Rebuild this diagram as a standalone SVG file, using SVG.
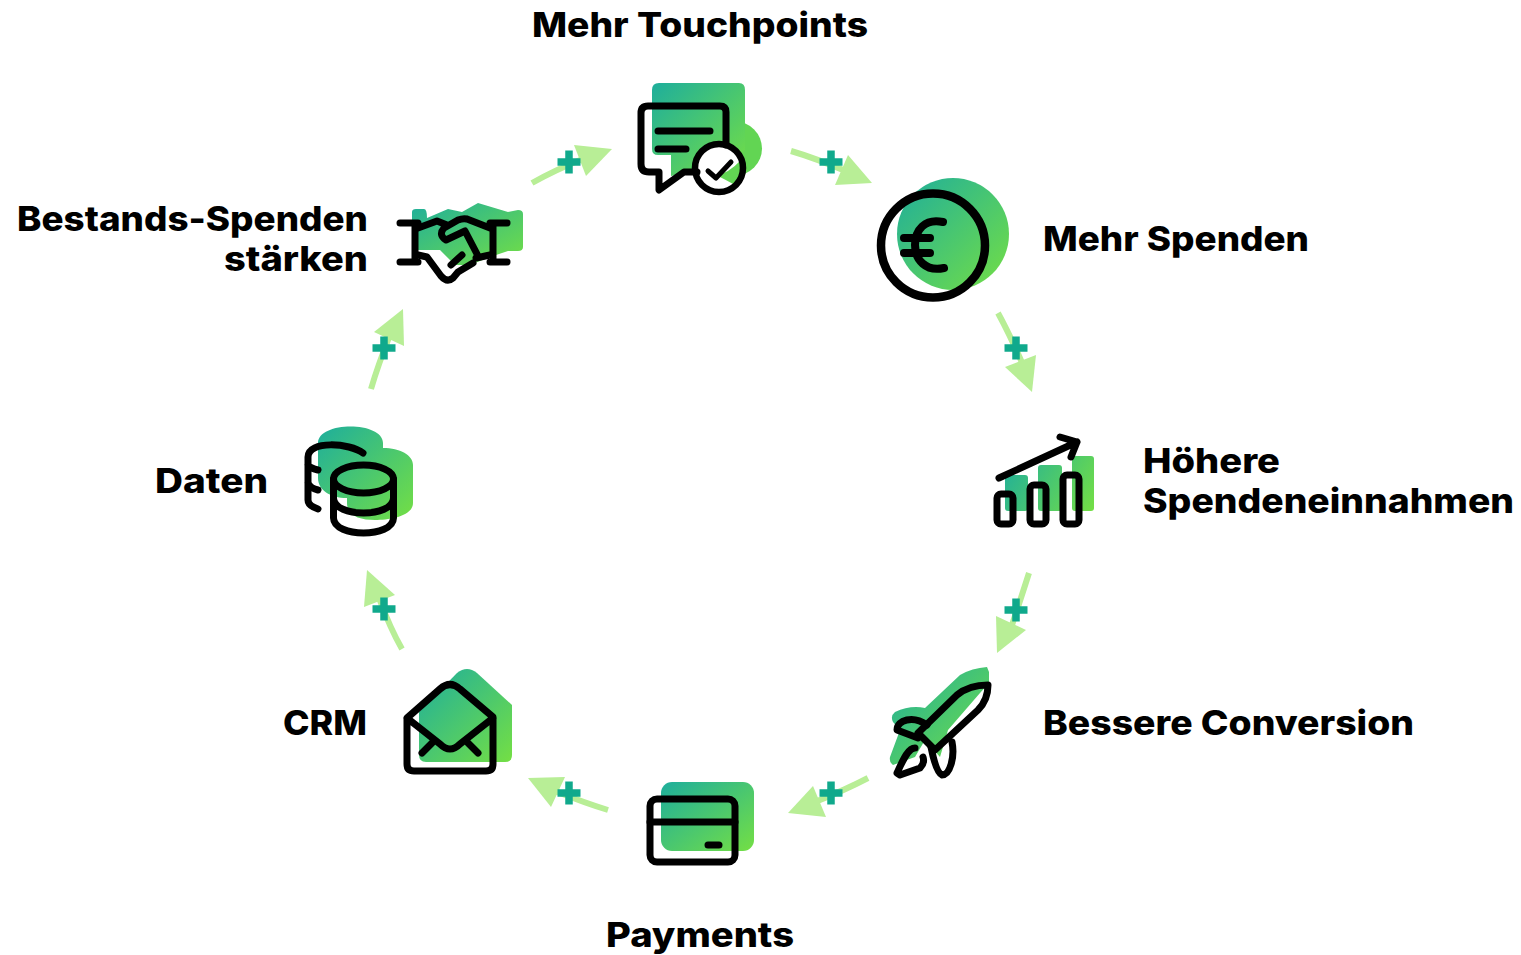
<svg xmlns="http://www.w3.org/2000/svg" width="1521" height="955" viewBox="0 0 1521 955">
<defs>
<linearGradient id="g" x1="0" y1="0" x2="1" y2="1"><stop offset="0" stop-color="#1eae9c"/><stop offset="1" stop-color="#74df44"/></linearGradient>
<linearGradient id="gb" gradientUnits="userSpaceOnUse" x1="1005" y1="456" x2="1094" y2="511"><stop offset="0" stop-color="#1eae9c"/><stop offset="1" stop-color="#74df44"/></linearGradient>
</defs>
<style>
text{font-family:"Inter","Liberation Sans",sans-serif;font-weight:800;font-size:34px;fill:#000}
.gr{fill:url(#g)}
.gb{fill:url(#gb)}
.k{fill:none;stroke:#000;stroke-width:7;stroke-linecap:round;stroke-linejoin:round}
.ln{fill:none;stroke:#b8ee96;stroke-width:6}
.hd{fill:#b8ee96}
.pl{fill:none;stroke:#10a98c;stroke-width:7.500}
</style>
<rect width="1521" height="955" fill="#fff"/>
<g id="connectors">
<path class="ln" d="M791 151Q815 158 848 172"/><polygon class="hd" points="872,183 848,155 835,185"/><path class="pl" d="M819.500 162H842.500M831 150.500V173.500"/>
<path class="ln" d="M998 313Q1010 335 1023 365"/><polygon class="hd" points="1036,355 1005,367 1032,392"/><path class="pl" d="M1004.500 348H1027.500M1016 336.500V359.500"/>
<path class="ln" d="M1029 573Q1022 595 1012 625"/><polygon class="hd" points="996,616 1026,630 997,653"/><path class="pl" d="M1004.500 610H1027.500M1016 598.500V621.500"/>
<path class="ln" d="M868 778Q845 790 815 802"/><polygon class="hd" points="813,786 826,817 788,813"/><path class="pl" d="M819.500 793H842.500M831 781.500V804.500"/>
<path class="ln" d="M608 810Q585 803 555 791"/><polygon class="hd" points="528,778 565,777 551,807"/><path class="pl" d="M557.500 793H580.500M569 781.500V804.500"/>
<path class="ln" d="M402 649Q390 628 379 598"/><polygon class="hd" points="367,570 395,595 364,607"/><path class="pl" d="M372.500 609H395.500M384 597.500V620.500"/>
<path class="ln" d="M371 389Q378 365 390 335"/><polygon class="hd" points="403,309 404,346 374,332"/><path class="pl" d="M372.500 348H395.500M384 336.500V359.500"/>
<path class="ln" d="M532 183Q555 170 585 158"/><polygon class="hd" points="612,149 574,145 586,176"/><path class="pl" d="M557.500 162H580.500M569 150.500V173.500"/>
</g>
<g id="node-touchpoints">
<path fill="#62d553" d="M735 121.500A27 27 0 0 1 735 175.500H715V125Z"/>
<path class="gr" d="M659 83H739Q745 83 745 90V150L725 170H700L671 176V155H658Q652 155 652 149V90Q652 83 659 83Z"/>
<circle cx="719" cy="168" r="24" fill="#fff"/>
<path fill="#62d553" d="M716 175Q728 174 741 160Q744 172 735 185Q726 180 716 175Z"/>
<path class="k" d="M648 106H720Q726 106 726 112V145M697 172H684L659 190V172H649Q641 172 641 164V113Q641 106 648 106"/>
<path class="k" d="M658 131H710M658 149H686"/>
<circle cx="719" cy="168" r="24" class="k" style="stroke-width:6.500"/>
<path class="k" style="stroke-width:5" d="M708 171L716 178L731 162"/>
</g>
<g id="node-mehr-spenden">
<circle class="gr" cx="953" cy="234" r="56"/>
<circle class="k" cx="933" cy="245.500" r="52" style="stroke-width:8.500"/>
<path class="k" style="stroke-width:8" d="M943 222C925 218 915 230 915 245C915 260 926 272 944 268M904 238H930M904 253H930"/>
</g>
<g id="node-einnahmen">
<rect class="gb" x="1005" y="475" width="23" height="36" rx="3"/>
<rect class="gb" x="1038" y="465" width="24" height="46" rx="3"/>
<rect class="gb" x="1072" y="456" width="22" height="55" rx="3"/>
<rect class="k" x="997" y="494" width="16" height="30" rx="4"/>
<rect class="k" x="1030" y="485" width="16" height="39" rx="4"/>
<rect class="k" x="1063" y="475" width="16" height="49" rx="4"/>
<path class="k" d="M999 478L1077 442M1060 437L1077 442L1071 457"/>
</g>
<g id="node-conversion">
<path class="gr" d="M987 667L989 672V683L980 693L948 730L940 757L925 740L915 757L893 765Q889 762 890 757L900 730L893 722Q890 716 895 712Q910 705 925 708L960 675Q972 668 987 667Z"/>
<path class="k" d="M988 685C972 685 963 690 957 695L918 733L935 750L978 710C985 703 988 695 988 685Z"/>
<path class="k" d="M927 725C913 715 897 720 897 730L918 738"/>
<path class="k" d="M952 742C955 757 950 775 942 775C937 773 933 757 931 747"/>
<path class="k" d="M915 748C908 748 903 760 897 773L900 775L920 768Q925 763 923 757"/>
</g>
<g id="node-payments">
<rect class="gr" x="661" y="782" width="93" height="69" rx="11"/>
<rect class="k" x="650" y="799" width="85" height="63" rx="7"/>
<path class="k" d="M650 822H735M708 845H719"/>
</g>
<g id="node-crm">
<path class="gr" d="M457 673Q467 665 477 673L512 705V755Q512 762 505 762H426Q419 762 419 755V712Z"/>
<path class="k" d="M407 718L440 689Q450 680 460 689L493 717V764Q493 771 486 771H414Q407 771 407 764ZM407 718L440 744Q450 754 460 744L493 718M422 753L432 743M478 753L468 743"/>
</g>
<g id="node-daten">
<path class="gr" d="M318 443C318 421 383 421 383 443V448C400 448 413 455 413 465V503C413 516 390 520 375 520C360 520 347 516 347 503V498C330 498 318 490 318 478Z"/>
<path class="k" d="M363 453C350 443 308 440 308 457V500C308 504 312 507 318 509M308 465Q310 468 318 470M308 483Q310 488 318 490"/>
<ellipse class="k" cx="363.500" cy="479" rx="30" ry="14"/>
<path class="k" d="M333.500 479V518C334 538 393 538 393.500 518V479M333.500 498C334 518 393 518 393.500 498"/>
</g>
<g id="node-bestand">
<path class="gr" d="M412 212Q412 209 416 209H424Q427 209 427 218L448 209L462 212L478 203L508 212L518 210Q523 210 523 214V247Q523 251 518 251H508L490 257L470 265H455L440 250H418L412 240Z"/>
<path class="k" d="M400 223H418M400 262H418M490 223H507M490 262H507M415 223V262M493 223V262"/>
<path class="k" d="M418 228L437 221L447 225M490 228L467 219Q463 218 458 220L444 228Q438 235 446 240L465 231L477 254M476 258L490 255"/>
<path class="k" d="M418 255L427 257L441 276Q447 283 453 278L458 272L473 263M451 265L462 255"/>
</g>
<g id="labels">
<text x="532" y="37" textLength="336" lengthAdjust="spacingAndGlyphs">Mehr Touchpoints</text>
<text x="1043" y="251" textLength="266" lengthAdjust="spacingAndGlyphs">Mehr Spenden</text>
<text x="1143" y="473" textLength="137" lengthAdjust="spacingAndGlyphs">Höhere</text>
<text x="1143" y="513" textLength="371" lengthAdjust="spacingAndGlyphs">Spendeneinnahmen</text>
<text x="1043" y="735" textLength="371" lengthAdjust="spacingAndGlyphs">Bessere Conversion</text>
<text x="606" y="947" textLength="188" lengthAdjust="spacingAndGlyphs">Payments</text>
<text x="283" y="735" textLength="84" lengthAdjust="spacingAndGlyphs">CRM</text>
<text x="155" y="493" textLength="113" lengthAdjust="spacingAndGlyphs">Daten</text>
<text x="17" y="231" textLength="351" lengthAdjust="spacingAndGlyphs">Bestands-Spenden</text>
<text x="224" y="271" textLength="144" lengthAdjust="spacingAndGlyphs">stärken</text>
</g>
</svg>
